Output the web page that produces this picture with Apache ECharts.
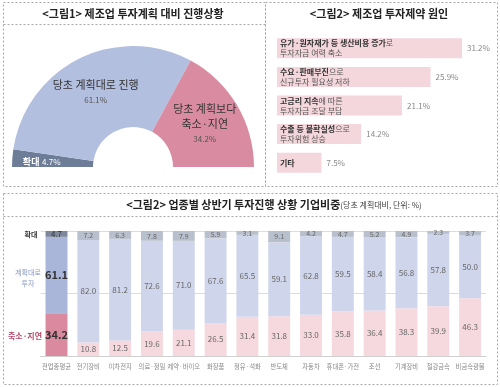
<!DOCTYPE html>
<html><head><meta charset="utf-8">
<script src="https://cdn.jsdelivr.net/npm/echarts@6/dist/echarts.min.js"></script>
<style>html,body{margin:0;padding:0;background:#fff}#c{width:500px;height:387px}</style>
</head><body><div id="c"></div>
<script>
// ---- Figure 1: donut ----
const pieNames = ['확대', '당초 계획대로 진행', '당초 계획보다\n축소·지연'];
const pieValues = [4.7, 61.1, 34.2];

// ---- Figure 2: causes ----
const causeBold = ['유가·원자재가 등 생산비용 증가', '수요·판매부진', '고금리 지속', '수출 등 불확실성', '기타'];
const causeRest = ['로', '으로', '에 따른', '으로', ''];
const causeLine2 = ['투자자금 여력 축소', '신규투자 필요성 저하', '투자자금 조달 부담', '투자위험 상승', ''];
const causeValues = [31.2, 25.9, 21.1, 14.2, 7.5];

// ---- Figure 3: by industry ----
const industries = ['전업종평균', '전기장비', '이차전지', '의료·정밀', '제약·바이오', '화장품', '정유·석화', '반도체', '자동차', '휴대폰·가전', '조선', '기계장비', '철강금속', '비금속광물'];
const expandVals = [4.7, 7.2, 6.3, 7.8, 7.9, 5.9, 3.1, 9.1, 4.2, 4.7, 5.2, 4.9, 2.3, 3.7];
const asPlanVals = [61.1, 82.0, 81.2, 72.6, 71.0, 67.6, 65.5, 59.1, 62.8, 59.5, 58.4, 56.8, 57.8, 50.0];
const reduceVals = [34.2, 10.8, 12.5, 19.6, 21.1, 26.5, 31.4, 31.8, 33.0, 35.8, 36.4, 38.3, 39.9, 46.3];
const rowLabels = ['확대', '계획대로\n투자', '축소·지연'];

const FONT = '"Noto Sans CJK KR", "Noto Sans", sans-serif';
const chart = echarts.init(document.getElementById('c'), null, {renderer: 'canvas'});

const pieColors = ['#6e7d97', '#b3bfdf', '#d98ca1'];
const pieData = pieValues.map((v, i) => ({
  name: pieNames[i], value: v, itemStyle: {color: pieColors[i]},
  label: i === 0
    ? {formatter: '{w|확대} {v|' + v.toFixed(1) + '%}', offset: [-8, 1]}
    : {formatter: '{n|' + pieNames[i] + '}\n{p|' + v.toFixed(1) + '%}'}
}));
pieData.push({name: 'blank', value: pieValues.reduce((a, b) => a + b, 0), itemStyle: {color: 'none'}, label: {show: false}, emphasis: {disabled: true}});

function stackData(vals, firstColor, color, firstLabel) {
  return vals.map((v, i) => i === 0
    ? {value: v, itemStyle: {color: firstColor}, label: firstLabel}
    : {value: v, itemStyle: {color: color}});
}
const fmt1 = p => Number(p.value).toFixed(1);

const dash = {stroke: '#a8a8a8', lineWidth: 1, lineDash: [2, 2], fill: 'none'};

const option = {
  animation: false,
  textStyle: {fontFamily: FONT},
  grid: [
    {left: 277, top: 34, height: 143, width: 207.5},
    {left: 40.6, right: 14, top: 231, bottom: 31}
  ],
  xAxis: [
    {gridIndex: 0, type: 'value', min: 0, max: 35, show: false},
    {gridIndex: 1, type: 'category', data: industries,
      axisLine: {lineStyle: {color: '#cfcfcf'}}, axisTick: {show: false},
      axisLabel: {interval: 0, fontSize: 6.3, color: '#888', margin: 7, fontFamily: FONT}}
  ],
  yAxis: [
    {gridIndex: 0, type: 'category', data: causeBold, inverse: true, show: false},
    {gridIndex: 1, type: 'value', min: 0, max: 100, interval: 50,
      axisLabel: {show: false}, axisLine: {show: false}, axisTick: {show: false},
      splitLine: {lineStyle: {color: '#dcdcdc'}}}
  ],
  series: [
    {
      type: 'pie', center: [133, 167], radius: [40, 121], startAngle: 180, clockwise: true,
      data: pieData, silent: true,
      label: {position: 'inside', fontFamily: FONT, lineHeight: 15,
        rich: {
          n: {fontSize: 11, color: '#333', fontFamily: FONT, lineHeight: 15, align: 'center'},
          p: {fontSize: 8, color: '#555', fontFamily: FONT, lineHeight: 15, align: 'center'},
          w: {fontSize: 9, color: '#fff', fontWeight: 'bold', fontFamily: FONT},
          v: {fontSize: 8, color: '#fff', fontFamily: FONT}
        }},
      labelLine: {show: false}
    },
    {
      type: 'bar', xAxisIndex: 0, yAxisIndex: 0, barWidth: 20, data: causeValues,
      itemStyle: {color: '#f4d6dd'}, silent: true,
      label: {show: true, position: 'insideLeft', distance: 3,
        formatter: p => {
          const i = p.dataIndex;
          let s = '{b|' + causeBold[i] + '}';
          if (causeRest[i]) s += '{n|' + causeRest[i] + '}';
          if (causeLine2[i]) s += '\n{n|' + causeLine2[i] + '}';
          return s;
        },
        rich: {
          b: {fontSize: 8, fontWeight: 'bold', color: '#333', fontFamily: FONT, lineHeight: 10},
          n: {fontSize: 8, color: '#555', fontFamily: FONT, lineHeight: 10}
        }}
    },
    {
      type: 'bar', xAxisIndex: 0, yAxisIndex: 0, barWidth: 20, barGap: '-100%', data: causeValues,
      itemStyle: {color: 'rgba(0,0,0,0)'}, silent: true,
      label: {show: true, position: 'right', distance: 5, formatter: p => fmt1(p) + '%', fontSize: 8, color: '#888', fontFamily: FONT}
    },
    {
      name: '축소·지연', type: 'bar', stack: 's', xAxisIndex: 1, yAxisIndex: 1, barWidth: '69%', silent: true,
      data: stackData(reduceVals, '#d98a9f', '#f6d9df', {fontSize: 11, fontWeight: 'bold', color: '#333'}),
      label: {show: true, position: 'inside', fontSize: 8, color: '#666', fontFamily: FONT, formatter: fmt1}
    },
    {
      name: '계획대로 투자', type: 'bar', stack: 's', xAxisIndex: 1, yAxisIndex: 1, barWidth: '69%', silent: true,
      data: stackData(asPlanVals, '#a9b6da', '#cfd6ec', {fontSize: 11, fontWeight: 'bold', color: '#333'}),
      label: {show: true, position: 'inside', fontSize: 8, color: '#666', fontFamily: FONT, formatter: fmt1}
    },
    {
      name: '확대', type: 'bar', stack: 's', xAxisIndex: 1, yAxisIndex: 1, barWidth: '69%', silent: true,
      data: stackData(expandVals, '#7d889c', '#b9c0cd', {fontSize: 8, color: '#333'}),
      label: {show: true, position: 'inside', fontSize: 7, color: '#666', fontFamily: FONT, formatter: fmt1}
    }
  ],
  graphic: [
    {type: 'rect', shape: {x: 3.5, y: 2.5, width: 262, height: 184}, style: dash, silent: true},
    {type: 'rect', shape: {x: 265.5, y: 2.5, width: 232, height: 184}, style: dash, silent: true},
    {type: 'line', shape: {x1: 3.5, y1: 24.5, x2: 265.5, y2: 24.5}, style: dash, silent: true},
    {type: 'rect', shape: {x: 3.5, y: 193.5, width: 494, height: 191}, style: dash, silent: true},
    {type: 'line', shape: {x1: 3.5, y1: 216.5, x2: 497.5, y2: 216.5}, style: dash, silent: true},
    {type: 'text', x: 133, y: 14, style: {text: '<그림1> 제조업 투자계획 대비 진행상황', font: 'bold 11px ' + FONT, fill: '#222', textAlign: 'center', textVerticalAlign: 'middle'}},
    {type: 'text', x: 379, y: 14, style: {text: '<그림2> 제조업 투자제약 원인', font: 'bold 11px ' + FONT, fill: '#222', textAlign: 'center', textVerticalAlign: 'middle'}},
    {type: 'text', x: 274, y: 205, style: {
      text: '{a|<그림2> 업종별 상반기 투자진행 상황 기업비중}{b|(당초 계획대비, 단위: %)}',
      textAlign: 'center', textVerticalAlign: 'middle',
      rich: {a: {font: 'bold 11px ' + FONT, fill: '#222'}, b: {font: '8px ' + FONT, fill: '#444'}}}},
    {type: 'text', x: 31, y: 234, style: {text: rowLabels[0], font: 'bold 7px ' + FONT, fill: '#333', textAlign: 'center', textVerticalAlign: 'middle'}},
    {type: 'text', x: 28, y: 278, style: {text: rowLabels[1], font: '7px ' + FONT, fill: '#8496c6', textAlign: 'center', textVerticalAlign: 'middle', lineHeight: 11}},
    {type: 'text', x: 25, y: 336, style: {text: rowLabels[2], font: 'bold 8px ' + FONT, fill: '#b54a6a', textAlign: 'center', textVerticalAlign: 'middle'}}
  ]
};
chart.setOption(option);
</script></body></html>
